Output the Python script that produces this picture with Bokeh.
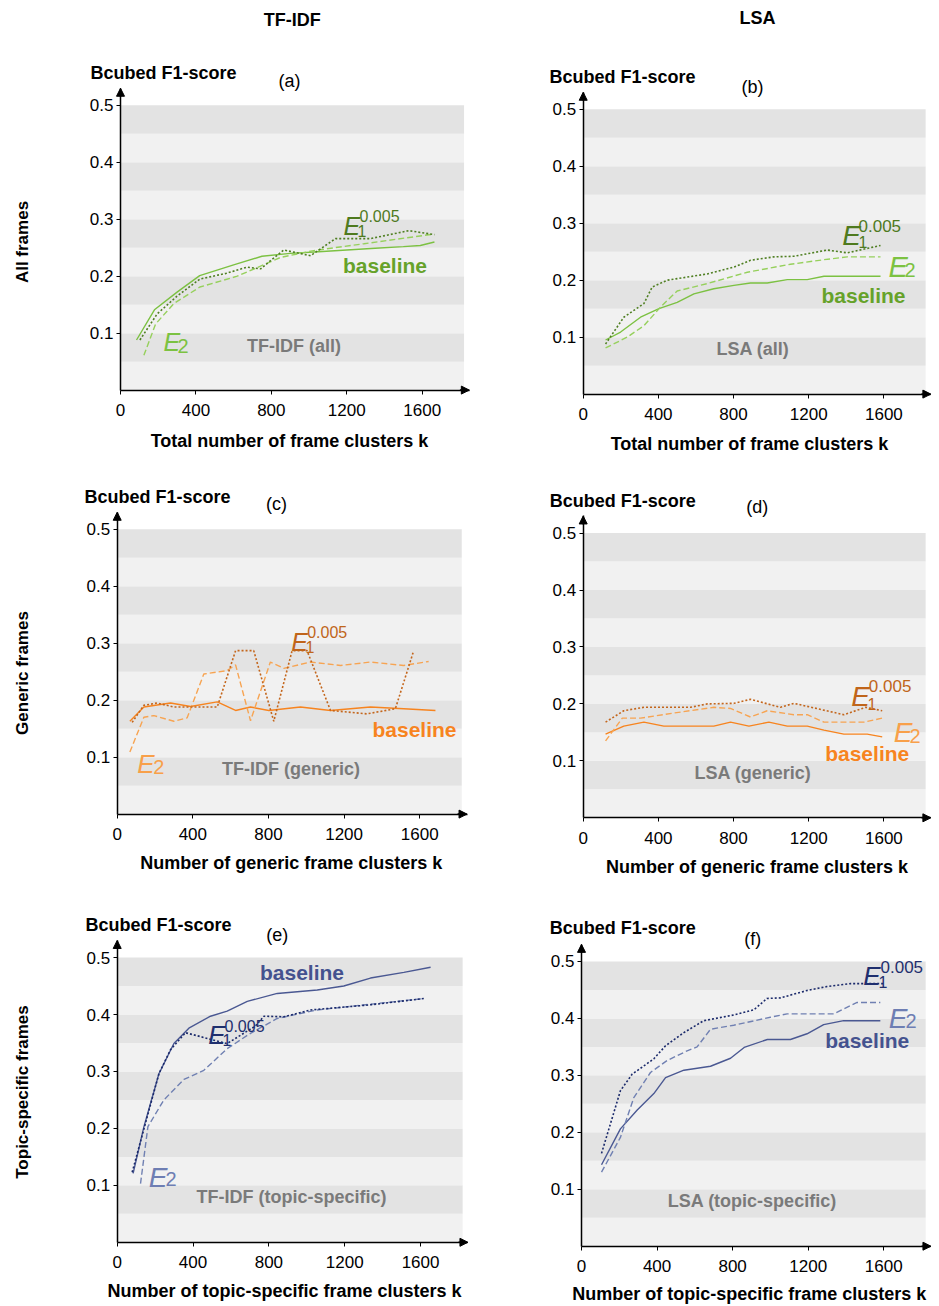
import numpy as np
from bokeh.plotting import figure
from bokeh.layouts import column, row
from bokeh.models import Label, Arrow, NormalHead, FixedTicker, Range1d, PrintfTickFormatter, LinearAxis
from bokeh.embed import file_html
from bokeh.resources import INLINE

FONT = "Liberation Sans"

# ---------------- data (k = number of clusters, f1 = Bcubed F1-score) ----------------
x_ticks = [0, 400, 800, 1200, 1600]
y_ticks = [0.1, 0.2, 0.3, 0.4, 0.5]

# (a) TF-IDF, all frames
a_k_base = [85, 180, 300, 420, 600, 750, 900, 1050, 1200, 1350, 1500, 1590, 1665]
a_f1_base = [0.088, 0.141, 0.172, 0.201, 0.220, 0.235, 0.240, 0.243, 0.246, 0.249, 0.252, 0.254, 0.260]
a_k_e1 = [103, 195, 300, 421, 560, 672, 743, 866, 1008, 1140, 1326, 1529, 1665]
a_f1_e1 = [0.088, 0.134, 0.165, 0.195, 0.205, 0.216, 0.213, 0.246, 0.236, 0.266, 0.266, 0.280, 0.273]
a_k_e2 = [124, 186, 283, 421, 619, 849, 1025, 1291, 1662]
a_f1_e2 = [0.061, 0.116, 0.152, 0.181, 0.200, 0.233, 0.245, 0.257, 0.274]

# (b) LSA, all frames
b_k_base = [119, 199, 305, 403, 500, 589, 695, 802, 890, 979, 1086, 1192, 1281, 1582]
b_f1_base = [0.095, 0.109, 0.135, 0.150, 0.161, 0.176, 0.185, 0.191, 0.195, 0.195, 0.201, 0.201, 0.207, 0.207]
b_k_e1 = [119, 216, 323, 367, 447, 660, 802, 890, 1015, 1121, 1299, 1405, 1582]
b_f1_e1 = [0.088, 0.135, 0.159, 0.188, 0.200, 0.211, 0.223, 0.235, 0.241, 0.242, 0.253, 0.248, 0.261]
b_k_e2 = [119, 234, 323, 412, 500, 660, 873, 1103, 1281, 1405, 1582]
b_f1_e2 = [0.081, 0.100, 0.120, 0.153, 0.181, 0.194, 0.214, 0.228, 0.236, 0.241, 0.241]

# (c) TF-IDF, generic frames
c_k_base = [67, 141, 282, 388, 529, 626, 705, 802, 969, 1128, 1339, 1515, 1683]
c_f1_base = [0.163, 0.188, 0.195, 0.189, 0.197, 0.182, 0.188, 0.182, 0.188, 0.182, 0.188, 0.185, 0.182]
c_k_e1 = [79, 141, 211, 300, 388, 529, 626, 722, 828, 925, 1004, 1128, 1321, 1471, 1568]
c_f1_e1 = [0.161, 0.191, 0.195, 0.188, 0.188, 0.188, 0.287, 0.287, 0.163, 0.287, 0.287, 0.182, 0.176, 0.185, 0.287]
c_k_e2 = [67, 141, 194, 300, 370, 458, 581, 626, 705, 810, 881, 1022, 1181, 1339, 1515, 1647]
c_f1_e2 = [0.109, 0.170, 0.173, 0.163, 0.169, 0.246, 0.252, 0.262, 0.164, 0.267, 0.256, 0.267, 0.261, 0.267, 0.261, 0.268]

# (d) LSA, generic frames
d_k_base = [119, 216, 323, 429, 695, 784, 882, 988, 1086, 1192, 1281, 1387, 1511, 1591]
d_f1_base = [0.147, 0.161, 0.168, 0.161, 0.161, 0.168, 0.161, 0.168, 0.161, 0.161, 0.154, 0.147, 0.147, 0.142]
d_k_e1 = [119, 216, 323, 571, 660, 802, 890, 1050, 1121, 1387, 1503, 1591]
d_f1_e1 = [0.168, 0.188, 0.194, 0.194, 0.200, 0.201, 0.208, 0.194, 0.201, 0.181, 0.194, 0.188]
d_k_e2 = [119, 208, 305, 483, 695, 784, 890, 979, 1121, 1192, 1281, 1494, 1591]
d_f1_e2 = [0.135, 0.175, 0.175, 0.184, 0.194, 0.192, 0.177, 0.188, 0.181, 0.181, 0.168, 0.168, 0.175]

# (e) TF-IDF, topic-specific frames
e_k_base = [84, 141, 220, 299, 378, 492, 580, 686, 844, 1055, 1195, 1336, 1512, 1653]
e_f1_base = [0.121, 0.203, 0.296, 0.349, 0.376, 0.397, 0.406, 0.423, 0.437, 0.443, 0.450, 0.464, 0.474, 0.483]
e_k_e1 = [79, 149, 220, 281, 360, 580, 730, 774, 879, 1020, 1336, 1617]
e_f1_e1 = [0.123, 0.209, 0.296, 0.338, 0.368, 0.349, 0.380, 0.397, 0.396, 0.408, 0.417, 0.428]
e_k_e2 = [123, 162, 246, 352, 457, 580, 703, 844, 1055, 1336, 1617]
e_f1_e2 = [0.103, 0.203, 0.250, 0.286, 0.302, 0.340, 0.367, 0.393, 0.408, 0.418, 0.428]

# (f) LSA, topic-specific frames
f_k_base = [106, 206, 295, 383, 445, 542, 683, 789, 861, 984, 1106, 1194, 1282, 1388, 1582]
f_f1_base = [0.143, 0.206, 0.239, 0.268, 0.296, 0.309, 0.316, 0.330, 0.349, 0.363, 0.363, 0.373, 0.389, 0.396, 0.396]
f_k_e1 = [106, 206, 268, 383, 445, 542, 647, 806, 912, 982, 1053, 1194, 1300, 1424, 1600]
f_f1_e1 = [0.163, 0.273, 0.302, 0.329, 0.352, 0.375, 0.396, 0.406, 0.415, 0.435, 0.436, 0.449, 0.456, 0.461, 0.461]
f_k_e2 = [106, 206, 277, 365, 453, 559, 612, 683, 806, 1000, 1088, 1335, 1459, 1582]
f_f1_e2 = [0.130, 0.191, 0.261, 0.305, 0.326, 0.343, 0.350, 0.381, 0.388, 0.402, 0.408, 0.408, 0.428, 0.428]

col_titles = ["TF-IDF", "LSA"]
row_titles = ["All frames", "Generic frames", "Topic-specific frames"]
panel_tags = ["(a)", "(b)", "(c)", "(d)", "(e)", "(f)"]
panel_names = ["TF-IDF (all)", "LSA (all)", "TF-IDF (generic)", "LSA (generic)",
               "TF-IDF (topic-specific)", "LSA (topic-specific)"]
x_titles = ["Total number of frame clusters k", "Total number of frame clusters k",
            "Number of generic frame clusters k", "Number of generic frame clusters k",
            "Number of topic-specific frame clusters k", "Number of topic-specific frame clusters k"]
y_title = "Bcubed F1-score"

# ---------------- styling ----------------
GREEN = dict(base="#7cc142", base_txt="#66a22a", e1="#4f7f22", e1_txt="#4f7a1e", e2="#96d05c", e2_txt="#7cc241")
ORANGE = dict(base="#f7841f", base_txt="#f7841f", e1="#c4661c", e1_txt="#c0651a", e2="#f7a452", e2_txt="#f8a04a")
BLUE = dict(base="#4a5892", base_txt="#44528f", e1="#1b2a6b", e1_txt="#1f2f6e", e2="#7080b2", e2_txt="#6e7eb3")

X_END = 1850.0
Y_END = 0.53
BAND_X_END = 1822
BAND_DARK = "#e3e3e3"
BAND_LIGHT = "#f1f1f1"
KY = 569.5   # pixels per F1 unit


def lab(p, c, rx, ry, text, size, color="black", style="normal", align="center", baseline="middle", angle=0.0):
    # c = (canvas left, canvas bottom) in page pixels; the frame fills the whole canvas
    p.add_layout(Label(x=rx - c[0], y=c[1] - ry, x_units="screen", y_units="screen", text=text,
                       text_font=FONT, text_font_size=f"{size}px", text_color=color,
                       text_font_style=style, text_align=align, text_baseline=baseline, angle=angle))


def elab(p, c, E, sub, subtxt, color, esize, subsize, sup=None, supsize=16):
    lab(p, c, E[0], E[1], "E", esize, color, "italic", "left", "alphabetic")
    lab(p, c, sub[0], sub[1], subtxt, subsize, color, "normal", "left", "alphabetic")
    if sup is not None:
        lab(p, c, sup[0], sup[1], "0.005", supsize, color, "normal", "left", "alphabetic")


def make_panel(idx, left, top, W, H, origin, kx, series, pal, spec):
    ox, oy = origin[0] - left, origin[1] - top      # data origin inside the canvas
    p = figure(width=W, height=H, output_backend="svg", toolbar_location=None,
               x_range=Range1d(-ox / kx, (W - ox) / kx), y_range=Range1d(-(H - oy) / KY, oy / KY),
               x_axis_location=None, y_axis_location=None,
               min_border=0, min_border_left=0, min_border_right=0, min_border_top=0, min_border_bottom=0)
    p.background_fill_color = "white"
    p.border_fill_color = "white"
    p.outline_line_color = None
    p.grid.visible = False

    # alternating background bands
    edges = np.round(np.arange(0, 0.5001, 0.05), 3)
    bcol = [BAND_DARK if i % 2 == 1 else BAND_LIGHT for i in range(len(edges) - 1)]
    p.quad(left=0, right=BAND_X_END, bottom=edges[:-1], top=edges[1:], fill_color=bcol, line_color=None)

    k_b, f_b, k_1, f_1, k_2, f_2 = series
    p.line(k_b, f_b, line_color=pal["base"], line_width=1.4)
    p.line(k_2, f_2, line_color=pal["e2"], line_width=1.4, line_dash="6 3")
    p.line(k_1, f_1, line_color=pal["e1"], line_width=1.6, line_dash="2 2")

    yax = LinearAxis(fixed_location=0, ticker=FixedTicker(ticks=y_ticks),
                     formatter=PrintfTickFormatter(format="%.1f"), bounds=(0, Y_END))
    xax = LinearAxis(fixed_location=0, ticker=FixedTicker(ticks=x_ticks),
                     formatter=PrintfTickFormatter(format="%d"), bounds=(0, X_END))
    for ax in (xax, yax):
        ax.axis_line_color = "black"
        ax.axis_line_width = 1.5
        ax.major_tick_line_color = "black"
        ax.major_tick_in = 0
        ax.major_tick_out = 4
        ax.minor_tick_line_color = None
        ax.major_label_text_font = FONT
        ax.major_label_text_font_size = "17px"
        ax.major_label_text_color = "black"
    xax.major_label_standoff = 10
    yax.major_label_standoff = 3
    p.add_layout(yax, "left")
    p.add_layout(xax, "below")

    head = dict(size=8, fill_color="black", line_color="black", line_width=1)
    p.add_layout(Arrow(end=NormalHead(**head), x_start=0, y_start=0.515, x_end=0, y_end=Y_END,
                       line_color="black", line_width=1.5))
    p.add_layout(Arrow(end=NormalHead(**head), x_start=1800, y_start=0, x_end=X_END, y_end=0,
                       line_color="black", line_width=1.5))

    c = (left, top + H)
    lab(p, c, spec["yt"][0], spec["yt"][1], y_title, 18, "black", "bold", "left", "middle")
    lab(p, c, spec["tag"][0], spec["tag"][1], panel_tags[idx], 18)
    lab(p, c, spec["xt"][0], spec["xt"][1], x_titles[idx], 18, "black", "bold")
    lab(p, c, spec["name"][0], spec["name"][1], panel_names[idx], 18, "#7a7a7a", "bold")
    lab(p, c, spec["base"][0], spec["base"][1], "baseline", 21, pal["base_txt"], "bold")
    e1 = spec["e1"]
    elab(p, c, e1[0], e1[1], "1", pal["e1_txt"], e1[3], 16, sup=e1[2], supsize=e1[4])
    e2 = spec["e2"]
    elab(p, c, e2[0], e2[1], "2", pal["e2_txt"], e2[2], 20)
    return p, c


# label positions in page pixels
specs = [
    dict(yt=(90, 72), tag=(289, 80), xt=(289, 440), name=(293.5, 345), base=(384.5, 265),
         e1=((343, 225), (357, 230), (359, 215), 25, 16), e2=((163, 341.7), (177, 345), 25)),
    dict(yt=(549, 76.5), tag=(752, 86), xt=(749, 443), name=(752.5, 348.3), base=(863, 295),
         e1=((841.7, 235), (858, 241.7), (858, 225), 28, 17), e2=((888, 266.7), (904, 269), 29)),
    dict(yt=(84, 496.7), tag=(276, 503.3), xt=(290.8, 862), name=(290.5, 768.3), base=(414, 729.3),
         e1=((290.7, 641.7), (305, 646), (306.7, 631.7), 25, 16), e2=((136.7, 763.3), (152.7, 766.7), 26)),
    dict(yt=(549.3, 500), tag=(756.7, 506.7), xt=(756.5, 866), name=(752.5, 772.7), base=(866.7, 753.3),
         e1=((850.7, 696), (867, 703), (868.3, 685), 28, 17), e2=((893.3, 731.7), (909, 735), 28)),
    dict(yt=(85, 924), tag=(276.7, 934), xt=(284, 1290), name=(291, 1196), base=(301.5, 971.7),
         e1=((207.7, 1034), (222, 1039), (224, 1025), 26, 16), e2=((148.3, 1176.7), (165, 1178.3), 28)),
    dict(yt=(549.3, 927.7), tag=(752.3, 938.3), xt=(748.8, 1293), name=(751.8, 1200), base=(866.7, 1040),
         e1=((862.7, 975), (878, 981.7), (880, 966.7), 26, 17), e2=((888.3, 1018.3), (905, 1020), 28)),
]

series_all = [
    (a_k_base, a_f1_base, a_k_e1, a_f1_e1, a_k_e2, a_f1_e2),
    (b_k_base, b_f1_base, b_k_e1, b_f1_e1, b_k_e2, b_f1_e2),
    (c_k_base, c_f1_base, c_k_e1, c_f1_e1, c_k_e2, c_f1_e2),
    (d_k_base, d_f1_base, d_k_e1, d_f1_e1, d_k_e2, d_f1_e2),
    (e_k_base, e_f1_base, e_k_e1, e_f1_e1, e_k_e2, e_f1_e2),
    (f_k_base, f_f1_base, f_k_e1, f_f1_e1, f_k_e2, f_f1_e2),
]
palettes = [GREEN, GREEN, ORANGE, ORANGE, BLUE, BLUE]

# canvas geometry: (left, top, width, height), data origin (page px), x pixels per cluster
W1, W2 = 470, 468
H1, H2, H3 = 470, 428, 407
geo = [
    (0, 0, W1, H1, (120.0, 389.6), 0.18856),
    (W1, 0, W2, H1, (582.7, 393.6), 0.18794),
    (0, H1, W1, H2, (116.7, 813.6), 0.1891),
    (W1, H1, W2, H2, (582.7, 817.3), 0.18794),
    (0, H1 + H2, W1, H3, (116.7, 1241.8), 0.1896),
    (W1, H1 + H2, W2, H3, (581.0, 1245.7), 0.1889),
]

figs, cs = [], []
for i in range(6):
    l, t, w, h, o, kx = geo[i]
    f, c = make_panel(i, l, t, w, h, o, kx, series_all[i], palettes[i], specs[i])
    figs.append(f)
    cs.append(c)

# column titles and row titles
lab(figs[0], cs[0], 291.8, 19, col_titles[0], 18, "black", "bold")
lab(figs[1], cs[1], 757, 17, col_titles[1], 18, "black", "bold")
row_pos = [(0, 241.5), (2, 672.5), (4, 1091.5)]
for r, (fi, cy) in enumerate(row_pos):
    lab(figs[fi], cs[fi], 21.7, cy, row_titles[r], 17, "black", "bold", angle=np.pi / 2)

layout = column(row(figs[0], figs[1]), row(figs[2], figs[3]), row(figs[4], figs[5]))

with open("out.html", "w") as fh:
    fh.write(file_html(layout, INLINE, title="Bcubed F1-score"))
